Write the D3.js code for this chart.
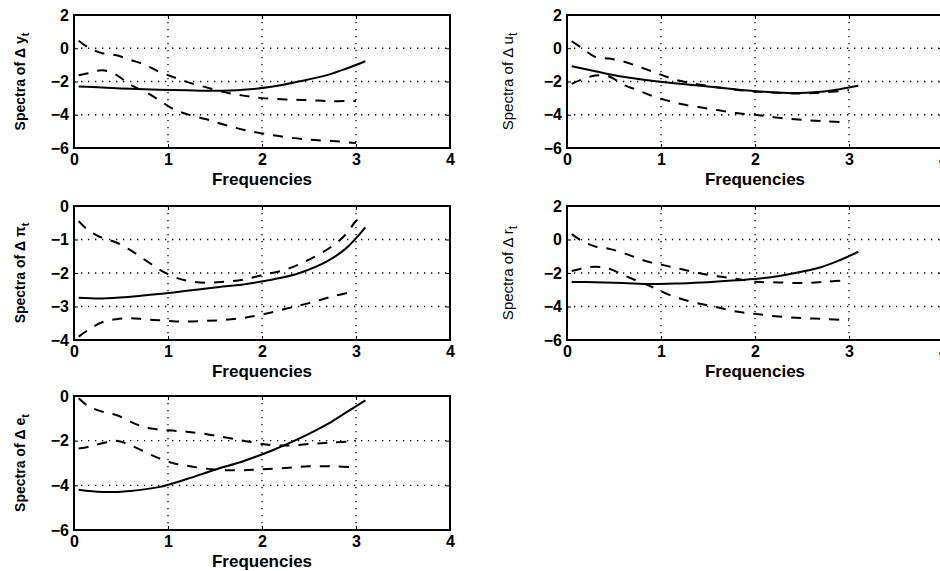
<!DOCTYPE html>
<html>
<head>
<meta charset="utf-8">
<script src="https://cdn.jsdelivr.net/npm/d3@7"></script>
<style>
  html, body { margin: 0; padding: 0; background: #fff; }
  svg { display: block; }
  text { font-family: "Liberation Sans", Arial, Helvetica, sans-serif; fill: #000; }
</style>
</head>
<body>
<svg id="chart" width="940" height="571"></svg>
<script>
// ---------------- data ----------------
const xTicks = [0, 1, 2, 3, 4];
const freqSolid = [0.05, 0.3, 0.6, 0.9, 1.2, 1.5, 1.8, 2.1, 2.4, 2.7, 2.9, 3.1];
const freqBand  = [0.05, 0.15, 0.3, 0.45, 0.6, 0.75, 0.9, 1.05, 1.2, 1.4, 1.6, 1.8, 2.0, 2.25, 2.5, 2.75, 3.0];
const freqBandPiUpper = [0.05, 0.15, 0.3, 0.45, 0.6, 0.75, 0.9, 1.05, 1.2, 1.4, 1.6, 1.8, 2.0, 2.25, 2.5, 2.75, 2.9, 3.0, 3.08];

// Δy
const ySolid = [-2.3, -2.36, -2.44, -2.49, -2.53, -2.56, -2.5, -2.32, -1.99, -1.6, -1.22, -0.78];
const yUpper = [0.45, 0.05, -0.3, -0.42, -0.7, -0.98, -1.4, -1.72, -2.02, -2.34, -2.64, -2.85, -3.0, -3.08, -3.12, -3.18, -3.17];
const yLower = [-1.62, -1.5, -1.32, -1.6, -2.2, -2.6, -3.1, -3.64, -3.96, -4.26, -4.6, -4.9, -5.12, -5.34, -5.5, -5.58, -5.7];
// Δu
const uSolid = [-1.08, -1.38, -1.72, -1.95, -2.14, -2.3, -2.48, -2.62, -2.7, -2.62, -2.46, -2.26];
const uUpper = [0.42, 0.05, -0.52, -0.62, -0.8, -1.08, -1.38, -1.7, -1.96, -2.18, -2.34, -2.5, -2.6, -2.68, -2.72, -2.65, -2.52];
const uLower = [-2.14, -1.9, -1.64, -1.7, -2.2, -2.52, -2.86, -3.12, -3.34, -3.54, -3.72, -3.9, -4.0, -4.18, -4.3, -4.4, -4.46];
// Δπ
const piSolid = [-2.74, -2.76, -2.71, -2.63, -2.53, -2.43, -2.34, -2.2, -2.0, -1.64, -1.25, -0.64];
const piUpper = [-0.45, -0.72, -0.95, -1.09, -1.32, -1.6, -1.88, -2.1, -2.23, -2.29, -2.26, -2.2, -2.06, -1.9, -1.6, -1.19, -0.82, -0.45, -0.3];
const piLower = [-3.9, -3.7, -3.47, -3.38, -3.35, -3.38, -3.41, -3.44, -3.45, -3.43, -3.4, -3.34, -3.24, -3.07, -2.9, -2.7, -2.54];
// Δr
const rSolid = [-2.53, -2.55, -2.6, -2.66, -2.62, -2.55, -2.44, -2.3, -2.03, -1.66, -1.24, -0.73];
const rUpper = [0.32, -0.05, -0.42, -0.56, -0.8, -1.12, -1.38, -1.56, -1.75, -2.0, -2.2, -2.35, -2.52, -2.56, -2.6, -2.52, -2.42];
const rLower = [-1.88, -1.74, -1.62, -1.75, -2.12, -2.48, -2.82, -3.22, -3.52, -3.82, -4.05, -4.3, -4.44, -4.6, -4.69, -4.75, -4.82];
// Δe
const eSolid = [-4.2, -4.3, -4.25, -4.08, -3.72, -3.3, -2.92, -2.45, -1.9, -1.25, -0.72, -0.2];
const eUpper = [-0.1, -0.45, -0.7, -0.85, -1.15, -1.4, -1.5, -1.55, -1.6, -1.7, -1.85, -2.0, -2.15, -2.22, -2.15, -2.08, -2.02];
const eLower = [-2.35, -2.28, -2.12, -2.0, -2.2, -2.5, -2.78, -3.0, -3.12, -3.25, -3.32, -3.32, -3.28, -3.22, -3.15, -3.15, -3.2];

const yTicksWide = [-6, -4, -2, 0, 2];
const yTicksPi = [-4, -3, -2, -1, 0];
const yTicksE = [-6, -4, -2, 0];

const panels = [
  { sym: "y", left: 74,  top: 15,  h: 133, yDom: [-6, 2], yTicks: yTicksWide, bold: true,
    series: [[freqSolid, ySolid, "solid"], [freqBand, yUpper, "dash"], [freqBand, yLower, "dash"]] },
  { sym: "u", left: 567, top: 15,  h: 133, yDom: [-6, 2], yTicks: yTicksWide, bold: false,
    series: [[freqSolid, uSolid, "solid"], [freqBand, uUpper, "dash"], [freqBand, uLower, "dash"]] },
  { sym: "π", left: 74,  top: 206, h: 134, yDom: [-4, 0], yTicks: yTicksPi, bold: true,
    series: [[freqSolid, piSolid, "solid"], [freqBandPiUpper, piUpper, "dash"], [freqBand, piLower, "dash"]] },
  { sym: "r", left: 567, top: 206, h: 134, yDom: [-6, 2], yTicks: yTicksWide, bold: false,
    series: [[freqSolid, rSolid, "solid"], [freqBand, rUpper, "dash"], [freqBand, rLower, "dash"]] },
  { sym: "e", left: 74,  top: 396, h: 134, yDom: [-6, 0], yTicks: yTicksE, bold: true,
    series: [[freqSolid, eSolid, "solid"], [freqBand, eUpper, "dash"], [freqBand, eLower, "dash"]] }
];

// ---------------- drawing ----------------
const svg = d3.select("#chart");
const W = 376;

panels.forEach(p => {
  const g = svg.append("g").attr("transform", `translate(${p.left},${p.top})`);
  const x = d3.scaleLinear().domain([0, 4]).range([0, W]);
  const y = d3.scaleLinear().domain(p.yDom).range([p.h, 0]);

  // grid (dotted)
  g.append("g").selectAll("line.gx").data(xTicks.filter(t => t > 0 && t < 4)).join("line")
    .attr("x1", d => x(d)).attr("x2", d => x(d)).attr("y1", 0).attr("y2", p.h)
    .attr("stroke", "#000").attr("stroke-width", 1.3).attr("stroke-dasharray", "1.3,5.7");
  g.append("g").selectAll("line.gy").data(p.yTicks.filter(t => t > p.yDom[0] && t < p.yDom[1])).join("line")
    .attr("x1", 0).attr("x2", W).attr("y1", d => y(d)).attr("y2", d => y(d))
    .attr("stroke", "#000").attr("stroke-width", 1.3).attr("stroke-dasharray", "1.3,5.7");

  // series
  const line = d3.line().x(d => x(d[0])).y(d => y(d[1])).curve(d3.curveCatmullRom.alpha(0.5));
  p.series.forEach(([fx, fy, style]) => {
    const pts = fx.map((f, i) => [f, fy[i]]);
    g.append("path").datum(pts).attr("d", line)
      .attr("fill", "none").attr("stroke", "#000")
      .attr("stroke-width", style === "solid" ? 2 : 2)
      .attr("stroke-dasharray", style === "solid" ? null : "10,9");
  });

  // axes
  const fmt = d3.format("d");
  const xAxis = d3.axisBottom(x).tickValues(xTicks).tickFormat(fmt).tickSizeInner(-4).tickSizeOuter(0).tickPadding(6);
  const yAxis = d3.axisLeft(y).tickValues(p.yTicks).tickFormat(d => fmt(d)).tickSizeInner(-4).tickSizeOuter(0).tickPadding(6);
  const xa = g.append("g").attr("transform", `translate(0,${p.h})`).call(xAxis);
  const ya = g.append("g").call(yAxis);
  [xa, ya].forEach(a => {
    a.select(".domain").remove();
    a.selectAll(".tick line").attr("stroke", "#000").attr("stroke-width", 1);
    a.selectAll("text").attr("font-size", 16).attr("font-weight", "bold").attr("fill", "#000")
      .style("font-family", "'Liberation Sans', Arial, sans-serif");
  });
  xa.selectAll("text").attr("dy", "0.72em").attr("y", 5);
  ya.selectAll("text").attr("x", -5);

  // top/right inward ticks
  const xt = d3.axisTop(x).tickValues(xTicks).tickFormat("").tickSizeInner(-4).tickSizeOuter(0);
  const yr = d3.axisRight(y).tickValues(p.yTicks).tickFormat("").tickSizeInner(-4).tickSizeOuter(0);
  g.append("g").call(xt).select(".domain").remove();
  g.append("g").attr("transform", `translate(${W},0)`).call(yr).select(".domain").remove();

  // frame
  g.append("rect").attr("x", 0).attr("y", 0).attr("width", W).attr("height", p.h)
    .attr("fill", "none").attr("stroke", "#000").attr("stroke-width", 2);

  // x label
  g.append("text").attr("x", W / 2).attr("y", p.h + 37).attr("text-anchor", "middle")
    .attr("font-size", 17).attr("font-weight", "bold").text("Frequencies");

  // y label
  const yl = g.append("text")
    .attr("transform", `translate(${p.bold ? -49 : -54},${p.h / 2}) rotate(-90)`)
    .attr("text-anchor", "middle")
    .attr("font-size", p.bold ? 14 : 15)
    .attr("font-weight", p.bold ? "bold" : "normal");
  yl.append("tspan").text("Spectra of Δ " + p.sym);
  yl.append("tspan").attr("font-size", p.bold ? 11 : 12).attr("dy", "0.35em").text("t");
});
</script>
</body>
</html>
